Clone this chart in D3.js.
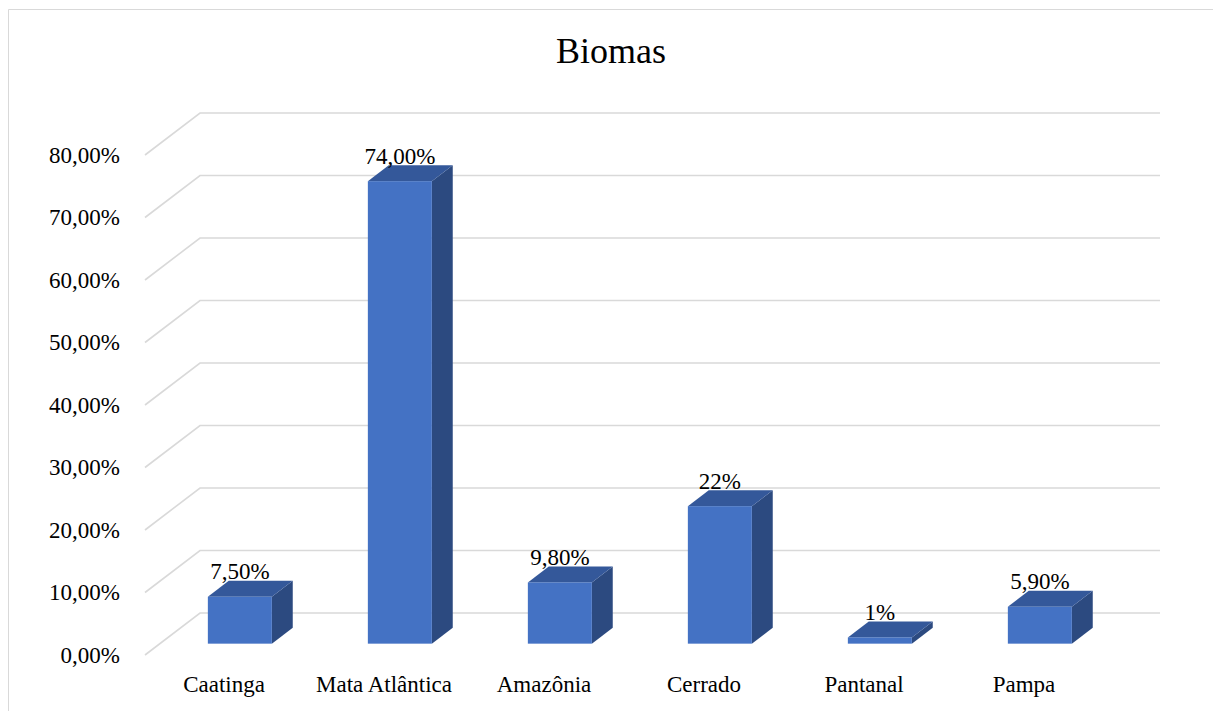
<!DOCTYPE html>
<html>
<head>
<meta charset="utf-8">
<script src="https://cdn.jsdelivr.net/npm/d3@7/dist/d3.min.js"></script>
<style>
  body { margin: 0; background: #fff; }
</style>
</head>
<body>
<svg id="chart" width="1213" height="711"></svg>
<script>
const title = "Biomas";
const categories = ["Caatinga", "Mata Atlântica", "Amazônia", "Cerrado", "Pantanal", "Pampa"];
const values = [7.5, 74, 9.8, 22, 1, 5.9];
const valueLabels = ["7,50%", "74,00%", "9,80%", "22%", "1%", "5,90%"];
const tickValues = [0, 10, 20, 30, 40, 50, 60, 70, 80];
const tickLabels = ["0,00%", "10,00%", "20,00%", "30,00%", "40,00%", "50,00%", "60,00%", "70,00%", "80,00%"];

const FONT = "'Liberation Serif', 'Times New Roman', serif";
const svg = d3.select("#chart");

// chart frame (left + top edges visible)
svg.append("path")
  .attr("d", "M8.5,711 L8.5,9.5 L1213,9.5")
  .attr("fill", "none").attr("stroke", "#d9d9d9").attr("stroke-width", 1);

// scales (front plane)
const x = d3.scaleBand().domain(categories).range([145, 1105]);
const y = d3.scaleLinear().domain([0, 80]).range([655, 155]);
const depth = { dx: 55, dy: -42 };   // full floor depth
const f1 = 0.27, f2 = 0.65;           // bar front / back depth fractions
const barW = 64;

// gridlines: front-left diagonal + back wall horizontal
const grid = svg.append("g");
tickValues.forEach(v => {
  const yf = y(v);
  grid.append("path")
    .attr("d", `M${x.range()[0]},${yf} L${x.range()[0] + depth.dx},${yf + depth.dy} L${x.range()[1] + depth.dx},${yf + depth.dy}`)
    .attr("fill", "none").attr("stroke", "#d9d9d9").attr("stroke-width", 1.6);
});

// y tick labels
svg.append("g").selectAll("text").data(tickValues).join("text")
  .attr("x", 120).attr("y", d => y(d)).attr("dy", "0.33em")
  .attr("text-anchor", "end").attr("font-size", 23).style("font-family", FONT).attr("fill", "#000")
  .text((d, i) => tickLabels[i]);

// bars
const sdx = depth.dx * (f2 - f1), sdy = depth.dy * (f2 - f1);
const bars = svg.append("g").selectAll("g").data(categories).join("g");
bars.each(function(c, i) {
  const g = d3.select(this);
  const cx = x(c) + x.bandwidth() / 2 + depth.dx * f1;
  const x0 = cx - barW / 2, x1 = cx + barW / 2;
  const yb = y(0) + depth.dy * f1;
  const yt = yb - (y(0) - y(values[i]));
  g.append("path")
    .attr("d", `M${x1},${yb} L${x1 + sdx},${yb + sdy} L${x1 + sdx},${yt + sdy} L${x1},${yt} Z`)
    .attr("fill", "#2c4a80");
  g.append("path")
    .attr("d", `M${x0},${yt} L${x1},${yt} L${x1 + sdx},${yt + sdy} L${x0 + sdx},${yt + sdy} Z`)
    .attr("fill", "#34589a");
  g.append("rect")
    .attr("x", x0).attr("y", yt).attr("width", barW).attr("height", yb - yt)
    .attr("fill", "#4472c4");
  g.append("text")
    .attr("x", cx).attr("y", yt + sdy - 1.5)
    .attr("text-anchor", "middle").attr("font-size", 23).style("font-family", FONT).attr("fill", "#000")
    .text(valueLabels[i]);
});

// category labels
svg.append("g").selectAll("text").data(categories).join("text")
  .attr("x", d => x(d) + x.bandwidth() / 2 - 1).attr("y", 692)
  .attr("text-anchor", "middle").attr("font-size", 23).style("font-family", FONT).attr("fill", "#000")
  .text(d => d);

// title
svg.append("text")
  .attr("x", 611).attr("y", 63).attr("text-anchor", "middle")
  .attr("font-size", 36).style("font-family", FONT).attr("fill", "#000").text(title);
</script>
</body>
</html>
